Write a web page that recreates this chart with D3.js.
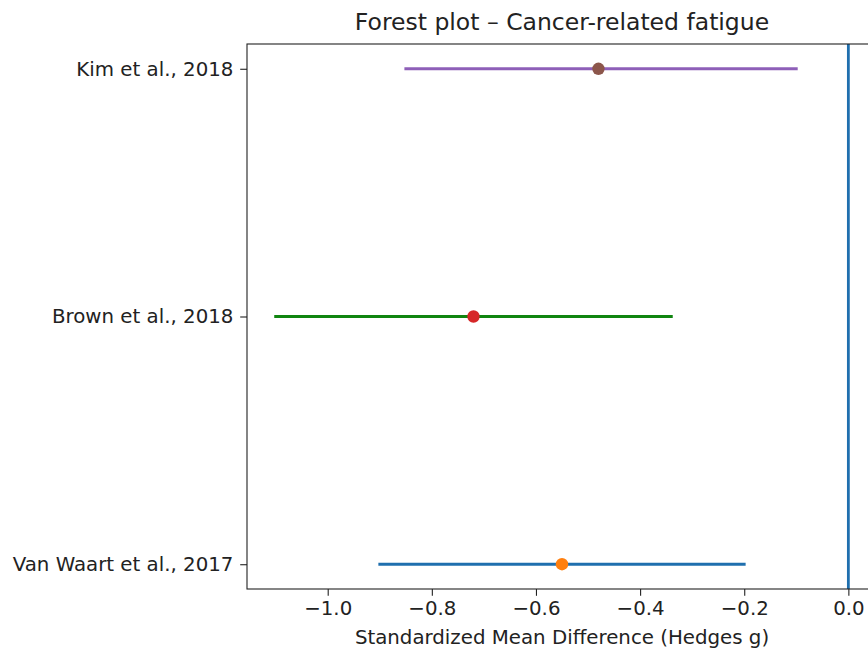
<!DOCTYPE html>
<html>
<head>
<meta charset="utf-8">
<script src="https://cdn.jsdelivr.net/npm/d3@7"></script>
<style>
  body { margin: 0; background: #fff; }
  svg { display: block; font-family: "DejaVu Sans", sans-serif; }
</style>
</head>
<body>
<svg id="chart" width="868" height="650"></svg>
<script>
// studies, bottom to top as plotted
var studies = ["Van Waart et al., 2017", "Brown et al., 2018", "Kim et al., 2018"];
var effects = [-0.55, -0.72, -0.48];
var lower = [-0.90, -1.10, -0.85];
var upper = [-0.20, -0.34, -0.10];
var xTicks = [-1.0, -0.8, -0.6, -0.4, -0.2, 0.0];

// colour cycle: line then point for each study
var lineColors = ["#1f6fae", "#108510", "#8e5fb8"];
var pointColors = ["#ff7f0e", "#d62728", "#8c564b"];

var svg = d3.select("#chart");
var plotLeft = 247, plotTop = 44, plotW = 630, plotH = 545;
var tickFont = 19.8;

// matplotlib style 5% margins
var xmin = d3.min(lower), xmax = Math.max(0, d3.max(upper));
var xpad = (xmax - xmin) * 0.05;
var x = d3.scaleLinear().domain([xmin - xpad, xmax + xpad]).range([plotLeft, plotLeft + plotW]);
var y = d3.scaleLinear().domain([-0.1, studies.length - 1 + 0.1]).range([plotTop + plotH, plotTop]);

var g = svg.append("g");

// CI lines
g.selectAll("line.ci").data(studies).enter().append("line")
  .attr("class", "ci")
  .attr("x1", function(d, i) { return x(lower[i]); })
  .attr("x2", function(d, i) { return x(upper[i]); })
  .attr("y1", function(d, i) { return y(i); })
  .attr("y2", function(d, i) { return y(i); })
  .attr("stroke", function(d, i) { return lineColors[i]; })
  .attr("stroke-width", 2.8)
  .attr("stroke-linecap", "square");

g.selectAll("circle.pt").data(studies).enter().append("circle")
  .attr("class", "pt")
  .attr("cx", function(d, i) { return x(effects[i]); })
  .attr("cy", function(d, i) { return y(i); })
  .attr("r", 6.2)
  .attr("fill", function(d, i) { return pointColors[i]; });

// null line
g.append("line")
  .attr("x1", x(0)).attr("x2", x(0))
  .attr("y1", plotTop).attr("y2", plotTop + plotH)
  .attr("stroke", "#1f6fae").attr("stroke-width", 2.8);

// frame
svg.append("rect")
  .attr("x", plotLeft).attr("y", plotTop).attr("width", plotW).attr("height", plotH)
  .attr("fill", "none").attr("stroke", "#222").attr("stroke-width", 1.1);

// x axis
var xAxis = d3.axisBottom(x).tickValues(xTicks)
  .tickFormat(function(d) { return d3.format(".1f")(d).replace("-", "\u2212"); })
  .tickSize(6.8).tickPadding(5);
var ax = svg.append("g").attr("transform", "translate(0," + (plotTop + plotH) + ")").call(xAxis);
ax.select(".domain").remove();
ax.selectAll("text").attr("font-size", tickFont).attr("fill", "#222").attr("font-family", "DejaVu Sans");
ax.selectAll("line").attr("stroke-width", 1.1).attr("stroke", "#222");

// y axis
var yAxis = d3.axisLeft(y).tickValues(d3.range(studies.length))
  .tickFormat(function(d) { return studies[d]; })
  .tickSize(6.8).tickPadding(6.8);
var ay = svg.append("g").attr("transform", "translate(" + plotLeft + ",0)").call(yAxis);
ay.select(".domain").remove();
ay.selectAll("text").attr("font-size", tickFont).attr("fill", "#222").attr("font-family", "DejaVu Sans");
ay.selectAll("line").attr("stroke-width", 1.1).attr("stroke", "#222");

// labels
svg.append("text")
  .attr("x", plotLeft + plotW / 2).attr("y", 30)
  .attr("text-anchor", "middle").attr("font-size", 23.5).attr("fill", "#222")
  .text("Forest plot \u2013 Cancer-related fatigue");

svg.append("text")
  .attr("x", plotLeft + plotW / 2).attr("y", 644)
  .attr("text-anchor", "middle").attr("font-size", tickFont).attr("fill", "#222")
  .text("Standardized Mean Difference (Hedges g)");
</script>
</body>
</html>
